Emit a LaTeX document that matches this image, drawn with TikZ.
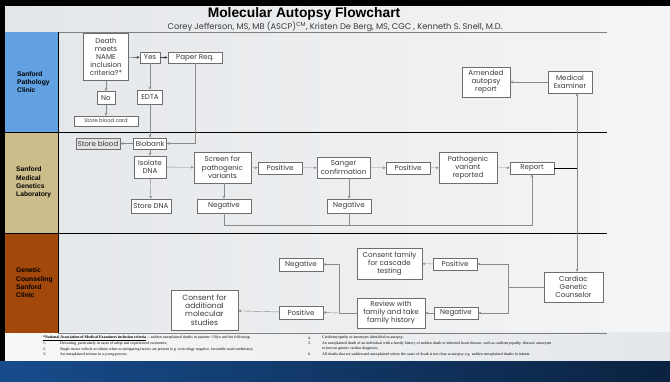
\documentclass[tikz,border=0pt]{standalone}
\usepackage{fontspec}
\usepackage{tikz}
\usepackage{xcolor}
\usetikzlibrary{arrows.meta,positioning,calc}
\setmainfont{Liberation Sans}
\newfontfamily\boxfont{Poppins}
\newfontfamily\notefont{Liberation Serif}
\definecolor{SlideLeft}{HTML}{E4E7EA}
\definecolor{SlideRight}{HTML}{F4F5F6}
\definecolor{PathBlue}{HTML}{62A2E2}
\definecolor{LabTan}{HTML}{CDBD8B}
\definecolor{ClinicRust}{HTML}{A2480B}
\definecolor{NavyLeft}{HTML}{174C8C}
\definecolor{NavyRight}{HTML}{0B2240}
\definecolor{BoxLine}{HTML}{6E6E6E}
\definecolor{LinkGray}{HTML}{8A8A8A}
\definecolor{Ink}{HTML}{3A3A3A}
\tikzset{
    every node/.style={font=\boxfont\fontsize{7.1}{8.2}\selectfont, text=Ink},
    stepbox/.style 2 args={
        draw=BoxLine, fill=white, semithick,
        minimum width=#1, minimum height=#2,
        align=center, inner sep=0.5pt, sharp corners
    },
    lanetext/.style={
        font=\bfseries\fontsize{6.7}{8.3}\selectfont, text=black,
        align=left, anchor=west, inner sep=0pt
    },
    flowarrow/.style={
        -{Stealth[length=3pt,width=2.6pt]}, LinkGray, thin
    },
    flowline/.style={LinkGray, thin},
    noteline/.style={
        font=\notefont\fontsize{3.9}{4}\selectfont, text=black, anchor=west, inner sep=0pt
    },
}
\begin{document}
\begin{tikzpicture}[x=1pt, y=-1pt]
    \useasboundingbox (0,0) rectangle (670,382);

    % Slide frame and background
    \fill[black] (0,0) rectangle (670,382);
    \shade[left color=SlideLeft, right color=SlideRight] (5,7) rectangle (670,362);
    \shade[left color=white!70!SlideLeft, right color=SlideLeft] (5,333) rectangle (670,362);
    \shade[left color=NavyLeft, right color=NavyRight] (0,362) rectangle (670,382);

    % Title
    \node[font=\bfseries\fontsize{13.8}{15}\selectfont, text=black] (title) at (304,14) {Molecular Autopsy Flowchart};
    \node[font=\boxfont\fontsize{8.3}{9}\selectfont] (authors) at (335,26.5) {Corey Jefferson, MS, MB (ASCP)\textsuperscript{CM}, Kristen De Berg, MS, CGC , Kenneth S. Snell, M.D.};
    \draw[gray] (58,32) -- (607,32);

    % Swim lanes
    \fill[PathBlue] (5,32) rectangle (58,132);
    \fill[LabTan] (5,132) rectangle (58,233);
    \fill[ClinicRust] (5,233) rectangle (58,333);
    \draw[black, thick] (58,32) -- (58,333);
    \draw[black, semithick] (5,132) -- (607,132);
    \draw[black, semithick] (5,233) -- (607,233);
    \draw[gray] (58,333) -- (607,333);
    \node[lanetext] (lanepath) at (17,82) {Sanford\\Pathology\\Clinic};
    \node[lanetext] (lanelab) at (16,182.5) {Sanford\\Medical\\Genetics\\Laboratory};
    \node[lanetext] (laneclinic) at (16,283) {Genetic\\Counseling\\Sanford\\Clinic};

    % Pathology clinic
    \node[stepbox={45pt}{47pt}] (death) at (106,57) {Death\\meets\\NAME\\inclusion\\criteria?*};
    \node[stepbox={20pt}{11pt}] (yes) at (150,57.5) {Yes};
    \node[stepbox={54pt}{11pt}] (paper) at (195,57.5) {Paper Req.};
    \node[stepbox={18pt}{13pt}] (no) at (106,98) {No};
    \node[stepbox={25pt}{14pt}] (edta) at (150,97) {EDTA};
    \node[stepbox={64pt}{10pt}, font=\boxfont\fontsize{5.2}{6}\selectfont] (storecard) at (106,121) {Store blood card};
    \node[stepbox={48pt}{30pt}] (amended) at (486,82) {Amended\\autopsy\\report};
    \node[stepbox={44pt}{22pt}] (medex) at (570,82) {Medical\\Examiner};

    % Medical genetics laboratory
    \node[stepbox={44pt}{11pt}, fill=gray!20] (storeblood) at (98,143.5) {Store blood};
    \node[stepbox={33pt}{11pt}] (biobank) at (150,143.5) {Biobank};
    \node[stepbox={32pt}{22pt}] (isolate) at (150,167) {Isolate\\DNA};
    \node[stepbox={40pt}{14pt}] (storedna) at (151,206) {Store DNA};
    \node[stepbox={57pt}{31pt}] (screen) at (222.5,167.5) {Screen for\\pathogenic\\variants};
    \node[stepbox={54pt}{14pt}] (negscreen) at (224,206) {Negative};
    \node[stepbox={44pt}{12pt}] (posscreen) at (280,168) {Positive};
    \node[stepbox={53pt}{21pt}] (sanger) at (343.5,167.5) {Sanger\\confirmation};
    \node[stepbox={44pt}{14pt}] (negsanger) at (349,206) {Negative};
    \node[stepbox={44pt}{12pt}] (possanger) at (408,168) {Positive};
    \node[stepbox={58pt}{31pt}] (pathrep) at (468,167.5) {Pathogenic\\variant\\reported};
    \node[stepbox={44pt}{12pt}] (report) at (532,168) {Report};

    % Genetic counseling clinic
    \node[stepbox={59pt}{30pt}] (cardiac) at (573.5,287) {Cardiac\\Genetic\\Counselor};
    \node[stepbox={44pt}{12pt}] (poscgc) at (455,264) {Positive};
    \node[stepbox={44pt}{12pt}] (negcgc) at (456,313) {Negative};
    \node[stepbox={65pt}{31pt}] (cascade) at (389.5,263.5) {Consent family\\for cascade\\testing};
    \node[stepbox={68pt}{30pt}] (review) at (391,313) {Review with\\family and take\\family history};
    \node[stepbox={44pt}{13pt}] (negreview) at (301,264.5) {Negative};
    \node[stepbox={44pt}{13pt}] (posreview) at (301,312.5) {Positive};
    \node[stepbox={67pt}{40pt}, font=\boxfont\fontsize{7.6}{8.2}\selectfont] (molecular) at (204.5,310) {Consent for\\additional\\molecular\\studies};

    % Connectors
    \coordinate (spine) at (577,168);
    \coordinate (cgcfork) at (508,287);
    \coordinate (revfork) at (339,313);
    \draw[flowarrow, Ink] (death) -- (yes);
    \draw[flowarrow, Ink] (yes) -- (paper);
    \draw[flowarrow] (death) -- (no);
    \draw[flowarrow] (no) -- (storecard);
    \draw[flowarrow] (yes) -- (edta);
    \draw[flowarrow] (edta) -- (biobank);
    \draw[flowarrow] (paper.south) |- (biobank.east);
    \draw[flowarrow] (biobank) -- (storeblood);
    \draw[flowarrow] (biobank) -- (isolate);
    \draw[flowarrow] (isolate) -- (storedna);
    \draw[flowarrow] (isolate) -- (screen);
    \draw[flowarrow] (screen.south -| negscreen) -- (negscreen);
    \draw[flowarrow] (screen) -- (posscreen);
    \draw[flowarrow] (posscreen) -- (sanger);
    \draw[flowarrow] (sanger.south -| negsanger) -- (negsanger);
    \draw[flowarrow] (sanger) -- (possanger);
    \draw[flowarrow] (possanger) -- (pathrep);
    \draw[flowarrow] (pathrep) -- (report);
    \draw[flowarrow] (negscreen.south) -- ++(0,12) -| (report.south);
    \draw[flowline] (negsanger.south) -- ++(0,12);
    \draw[black, thin] (report.east) -- (spine);
    \draw[flowarrow] (spine) -- (spine |- medex.south);
    \draw[flowarrow] (spine) -- (spine |- cardiac.north);
    \draw[flowarrow] (medex) -- (amended);
    \draw[flowline] (cardiac.west) -- (cgcfork);
    \draw[flowarrow] (cgcfork) |- (poscgc.east);
    \draw[flowarrow] (cgcfork) |- (negcgc.east);
    \draw[flowarrow] (poscgc) -- (cascade);
    \draw[flowarrow] (negcgc) -- (review);
    \draw[flowline] (review.west) -- (revfork);
    \draw[flowarrow] (revfork) |- (negreview.east);
    \draw[flowarrow] (revfork) -- (posreview.east);
    \draw[flowarrow] (posreview) -- (molecular);

    % Footnote
    \node[noteline] (note0) at (43,338) {\textbf{\underline{*National Association of Medical Examiners inclusion criteria}} -- sudden unexplained deaths in patients <50yo and the following:};
    \node[noteline] (note1n) at (43,343.5) {1.};
    \node[noteline] (note1) at (60,343.5) {Drowning, particularly in cases of adept and experienced swimmers;};
    \node[noteline] (note2n) at (43,349.5) {2.};
    \node[noteline] (note2) at (60,349.5) {Single motor vehicle accidents when no mitigating factors are present (e.g. toxicology negative, favorable road conditions);};
    \node[noteline] (note3n) at (43,354.5) {3.};
    \node[noteline] (note3) at (60,354.5) {An unexplained seizure in a young person;};
    \node[noteline] (note4n) at (308,338) {4.};
    \node[noteline] (note4) at (322,338) {Cardiomyopathy or aneurysm identified on autopsy;};
    \node[noteline] (note5n) at (308,343.5) {5.};
    \node[noteline] (note5) at (322,343.5) {An unexplained death of an individual with a family history of sudden death or inherited heart disease, such as cardiomyopathy, thoracic aneurysm};
    \node[noteline] (note5b) at (322,349) {or known genetic cardiac diagnosis;};
    \node[noteline] (note6n) at (308,354.5) {6.};
    \node[noteline] (note6) at (322,354.5) {All deaths that are sudden and unexplained where the cause of death is not clear at autopsy e.g. sudden unexplained deaths in infants.};
\end{tikzpicture}
\end{document}
